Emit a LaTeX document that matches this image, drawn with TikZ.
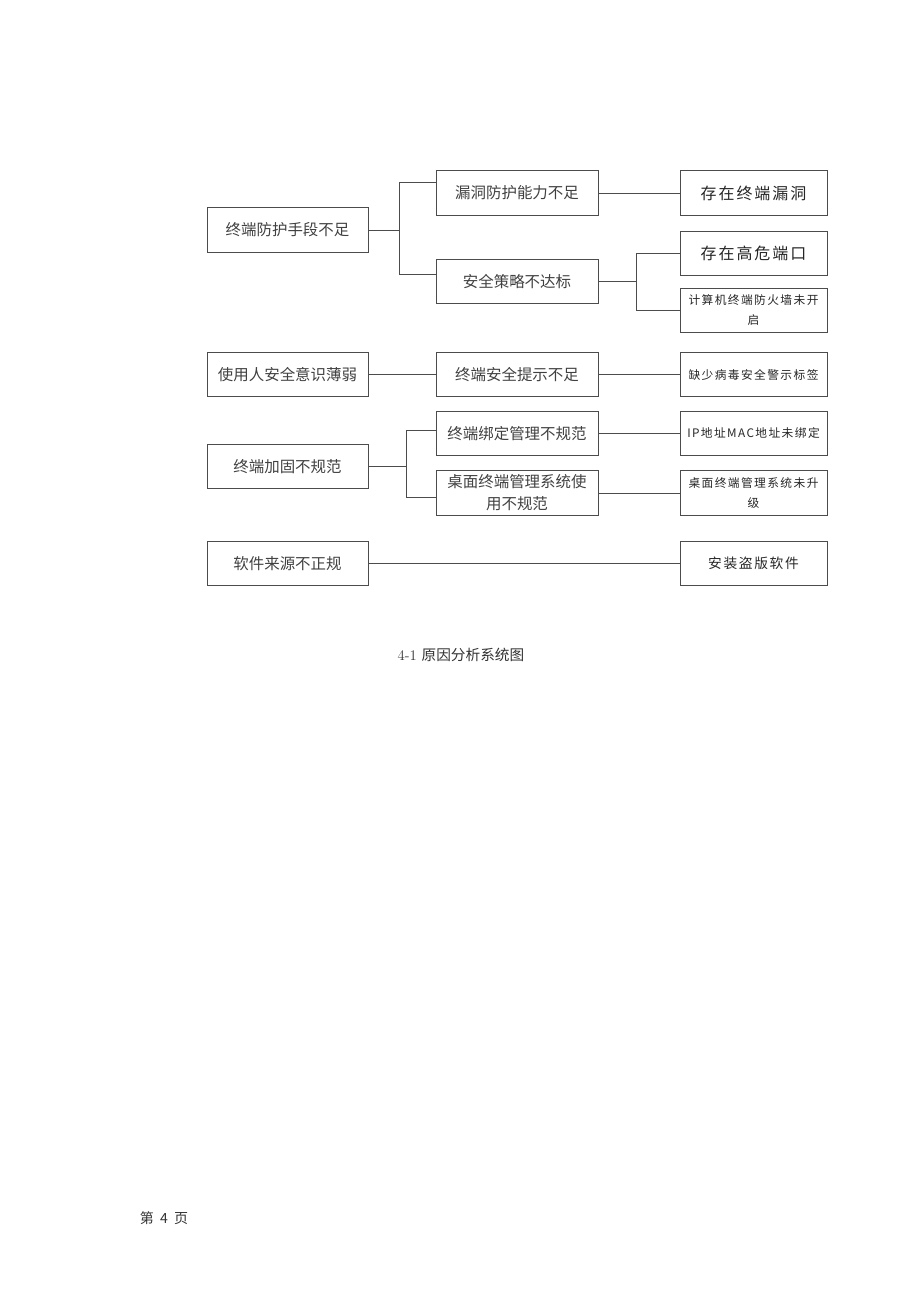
\documentclass[tikz,border=0pt]{standalone}
\usepackage{fontspec}
\newfontfamily\cjk{Noto Sans CJK SC}
\newfontfamily\cjkw[LetterSpace=12]{Noto Sans CJK SC}
\usetikzlibrary{positioning}

\begin{document}
\begin{tikzpicture}[x=0.75pt, y=-0.75pt,
    cause/.style={draw=black!70, line width=0.6pt, minimum width=120.75pt,
      minimum height=33.5pt, inner sep=1pt, align=center,
      font=\cjk\fontsize{11.6}{16.5}\selectfont, text=black!75},
    reason/.style={cause, minimum width=121.5pt},
    effect/.style={cause, minimum width=110.25pt, text width=106pt,
      font=\cjkw\fontsize{12}{15}\selectfont, text=black!85},
    small/.style={font=\cjkw\fontsize{8.8}{15}\selectfont},
    link/.style={draw=black!70, line width=0.6pt}]
  \useasboundingbox (0,0) rectangle (920,1302);
  % first level
  \node [cause] (A1) at (287.5,230) {终端防护手段不足};
  \node [cause] (A2) at (287.5,374.5) {使用人安全意识薄弱};
  \node [cause] (A3) at (287.5,466.5) {终端加固不规范};
  \node [cause] (A4) at (287.5,563.5) {软件来源不正规};
  % second level
  \node [reason] (B1) at (517,193) {漏洞防护能力不足};
  \node [reason] (B2) at (517,281.5) {安全策略不达标};
  \node [reason] (B3) at (517,374.5) {终端安全提示不足};
  \node [reason] (B4) at (517,433.5) {终端绑定管理不规范};
  \node [reason] (B5) at (517,493) {桌面终端管理系统使\\用不规范};
  % third level
  \node [effect] (C1) at (753.5,193) {存在终端漏洞};
  \node [effect] (C2) at (753.5,253.5) {存在高危端口};
  \node [effect, small] (C3) at (753.5,310.5) {计算机终端防火墙未开\\启};
  \node [effect, small] (C4) at (753.5,374.5) {缺少病毒安全警示标签};
  \node [effect, small] (C5) at (753.5,433.5) {IP地址MAC地址未绑定};
  \node [effect, small] (C6) at (753.5,493) {桌面终端管理系统未升\\级};
  \node [effect, small, font=\cjkw\fontsize{10.3}{15}\selectfont] (C7) at (753.5,563.5) {安装盗版软件};
  % junctions
  \coordinate (j1) at (399,230);
  \coordinate (j2) at (636,281.5);
  \coordinate (j3) at (406,466.5);
  \draw [link] (A1) -- (j1);
  \draw [link] (j1) |- ([yshift=8pt]B1.west);
  \draw [link] (j1) |- ([yshift=5pt]B2.west);
  \draw [link] (B1) -- (C1);
  \draw [link] (B2) -- (j2);
  \draw [link] (j2) |- (C2.west);
  \draw [link] (j2) |- (C3.west);
  \draw [link] (A2) -- (B3);
  \draw [link] (B3) -- (C4);
  \draw [link] (A3) -- (j3);
  \draw [link] (j3) |- ([yshift=2.6pt]B4.west);
  \draw [link] (j3) |- ([yshift=-3pt]B5.west);
  \draw [link] (B4) -- (C5);
  \draw [link] (B5) -- (C6);
  \draw [link] (A4) -- (C7);
  % caption and page number
  \node [font=\fontsize{11}{13}\selectfont, text=black!80] (cap) at (461,655) {4-1 {\cjk 原因分析系统图}};
  \node [font=\cjk\fontsize{10.5}{13}\selectfont, text=black!80] (page) at (164,1218) {第\ \ 4\ \ 页};
\end{tikzpicture}
\end{document}
